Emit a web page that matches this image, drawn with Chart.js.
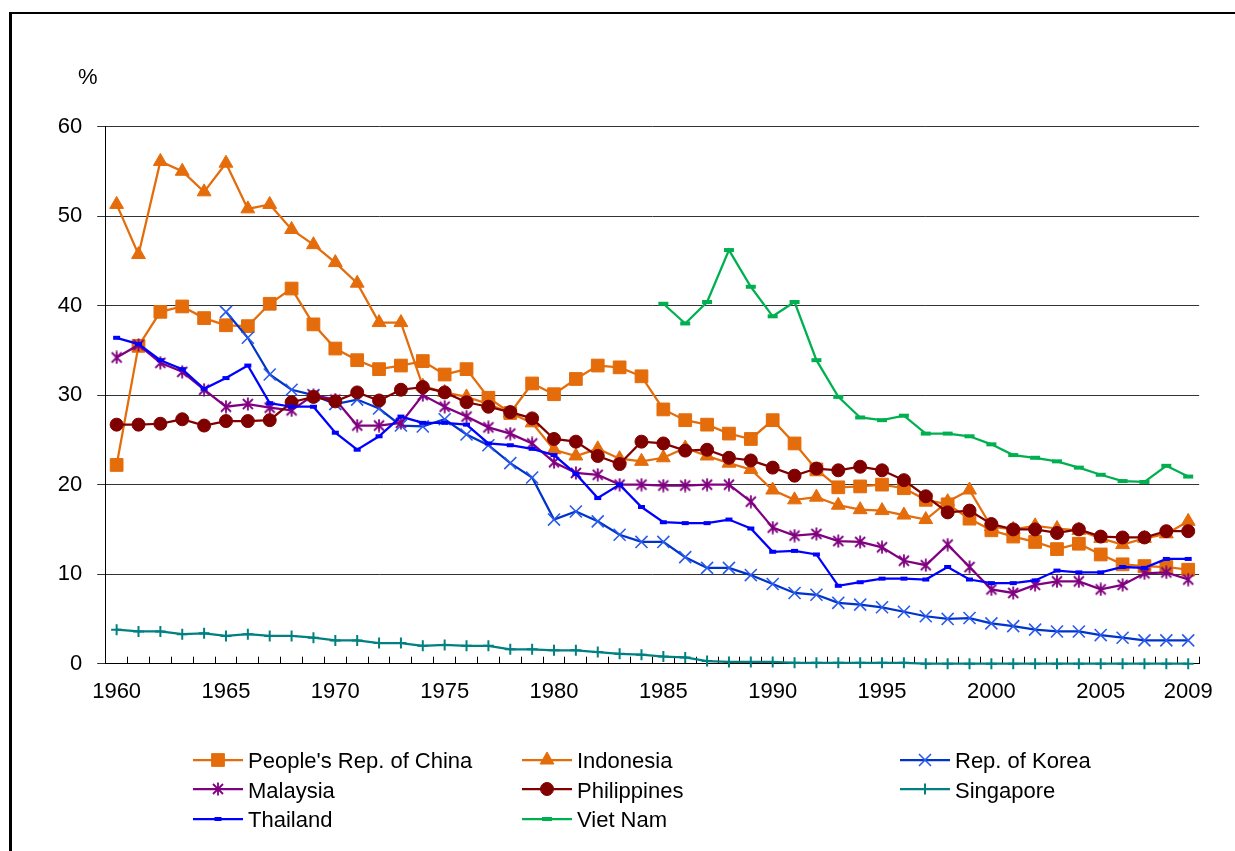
<!DOCTYPE html>
<html>
<head>
<meta charset="utf-8">
<title>Share of agriculture</title>
<script src="https://cdn.jsdelivr.net/npm/chart.js@4.4.1/dist/chart.umd.min.js"></script>
<style>
  html, body { margin: 0; padding: 0; background: #fff; overflow: hidden; }
  body { width: 1235px; height: 851px; position: relative; font-family: "Liberation Sans", Arial, sans-serif; color: #000; }
  #frame { position: absolute; left: 9px; top: 12px; width: 1400px; height: 1000px; border-left: 3px solid #000; border-top: 2px solid #000; }
  #wrap { position: absolute; left: 0; top: 0; width: 1235px; height: 851px; }
  #unit { position: absolute; left: 78px; top: 66px; font-size: 22px; line-height: 22px; }
  .lg-key { position: absolute; }
  .lg-text { position: absolute; font-size: 22px; line-height: 22px; white-space: nowrap; }
</style>
</head>
<body>
<div id="frame"></div>
<div id="wrap"><canvas id="chart" width="1235" height="851"></canvas></div>
<div id="unit">%</div>
<div id="legend"></div>
<script>
const years = [1960, 1961, 1962, 1963, 1964, 1965, 1966, 1967, 1968, 1969,
  1970, 1971, 1972, 1973, 1974, 1975, 1976, 1977, 1978, 1979,
  1980, 1981, 1982, 1983, 1984, 1985, 1986, 1987, 1988, 1989,
  1990, 1991, 1992, 1993, 1994, 1995, 1996, 1997, 1998, 1999,
  2000, 2001, 2002, 2003, 2004, 2005, 2006, 2007, 2008, 2009]

// years that get a label under the axis
const labelYears = [1960, 1965, 1970, 1975, 1980, 1985, 1990, 1995, 2000, 2005, 2009]

const seriesNames = ["People's Rep. of China", 'Indonesia', 'Rep. of Korea', 'Malaysia',
  'Philippines', 'Singapore', 'Thailand', 'Viet Nam']

const china = [22.2, 35.5, 39.3, 39.9, 38.6, 37.8, 37.7, 40.2, 41.9, 37.9,
  35.2, 33.9, 32.9, 33.3, 33.8, 32.3, 32.9, 29.7, 28.0, 31.3,
  30.1, 31.8, 33.3, 33.1, 32.1, 28.4, 27.2, 26.7, 25.7, 25.1,
  27.2, 24.6, 21.7, 19.7, 19.8, 20.0, 19.6, 18.3, 17.8, 16.2,
  14.9, 14.2, 13.6, 12.8, 13.4, 12.2, 11.1, 10.9, 10.8, 10.5]

const indonesia = [51.3, 45.7, 56.1, 55.0, 52.7, 55.9, 50.8, 51.3, 48.5, 46.8,
  44.8, 42.5, 38.1, 38.1, 31.0, 30.3, 29.8, 29.0, 28.0, 26.9,
  23.9, 23.2, 24.0, 22.9, 22.6, 23.0, 24.1, 23.2, 22.4, 21.7,
  19.4, 18.3, 18.6, 17.7, 17.2, 17.1, 16.6, 16.1, 18.1, 19.4,
  15.3, 15.0, 15.4, 15.1, 14.9, 14.0, 13.3, 14.0, 14.5, 15.9]

const korea = [null, null, null, null, null, 39.3, 36.4, 32.3, 30.6, 30.0,
  29.0, 29.5, 28.5, 26.6, 26.5, 27.3, 25.6, 24.4, 22.4, 20.8,
  16.1, 17.0, 15.9, 14.4, 13.6, 13.6, 11.9, 10.7, 10.7, 9.9,
  8.9, 7.9, 7.7, 6.8, 6.6, 6.3, 5.8, 5.3, 5.0, 5.1,
  4.5, 4.2, 3.8, 3.6, 3.6, 3.2, 2.9, 2.6, 2.6, 2.6]

const malaysia = [34.2, 35.6, 33.6, 32.6, 30.6, 28.7, 29.0, 28.6, 28.3, 30.0,
  29.5, 26.6, 26.6, 26.9, 30.0, 28.7, 27.6, 26.4, 25.7, 24.6,
  22.5, 21.3, 21.1, 20.0, 20.0, 19.9, 19.9, 20.0, 20.0, 18.1,
  15.2, 14.3, 14.5, 13.7, 13.6, 13.0, 11.5, 11.0, 13.3, 10.8,
  8.3, 7.9, 8.8, 9.2, 9.2, 8.3, 8.8, 10.1, 10.2, 9.4]

const philippines = [26.7, 26.7, 26.8, 27.3, 26.6, 27.1, 27.1, 27.2, 29.2, 29.8,
  29.3, 30.3, 29.4, 30.6, 30.9, 30.3, 29.2, 28.7, 28.1, 27.4,
  25.1, 24.8, 23.2, 22.3, 24.8, 24.6, 23.8, 23.9, 23.0, 22.7,
  21.9, 21.0, 21.8, 21.6, 22.0, 21.6, 20.5, 18.7, 16.9, 17.1,
  15.6, 15.0, 15.0, 14.6, 15.0, 14.2, 14.1, 14.1, 14.8, 14.8]

const singapore = [3.8, 3.6, 3.6, 3.3, 3.4, 3.1, 3.3, 3.1, 3.1, 2.9,
  2.6, 2.6, 2.3, 2.3, 2.0, 2.1, 2.0, 2.0, 1.6, 1.6,
  1.5, 1.5, 1.3, 1.1, 1.0, 0.8, 0.7, 0.3, 0.2, 0.2,
  0.2, 0.1, 0.1, 0.1, 0.1, 0.1, 0.1, 0.0, 0.0, 0.0,
  0.0, 0.0, 0.0, 0.0, 0.0, 0.0, 0.0, 0.0, 0.0, 0.0]

const thailand = [36.4, 35.7, 33.9, 32.9, 30.7, 31.9, 33.3, 29.1, 28.7, 28.7,
  25.8, 23.9, 25.4, 27.6, 26.9, 26.9, 26.7, 24.6, 24.4, 24.0,
  23.3, 21.2, 18.5, 20.0, 17.5, 15.8, 15.7, 15.7, 16.1, 15.1,
  12.5, 12.6, 12.2, 8.7, 9.1, 9.5, 9.5, 9.4, 10.8, 9.4,
  9.0, 9.0, 9.3, 10.4, 10.2, 10.2, 10.8, 10.7, 11.7, 11.7]

const vietnam = [null, null, null, null, null, null, null, null, null, null,
  null, null, null, null, null, null, null, null, null, null,
  null, null, null, null, null, 40.2, 38.0, 40.4, 46.2, 42.1,
  38.8, 40.4, 33.9, 29.8, 27.5, 27.2, 27.7, 25.7, 25.7, 25.4,
  24.5, 23.3, 23.0, 22.6, 21.9, 21.1, 20.4, 20.3, 22.1, 20.9]

const seriesValues = [china, indonesia, korea, malaysia, philippines, singapore, thailand, vietnam]

// Excel-like asterisk marker: an X with a vertical bar through it
function asteriskMarker(color) {
  const c = document.createElement('canvas')
  c.width = 14
  c.height = 14
  const g = c.getContext('2d')
  g.strokeStyle = color
  g.lineWidth = 1.8
  g.beginPath()
  g.moveTo(2, 2); g.lineTo(12, 12)
  g.moveTo(12, 2); g.lineTo(2, 12)
  g.moveTo(7, 0.5); g.lineTo(7, 13.5)
  g.stroke()
  return c
}

const looks = [
  { line: '#E46C0A', mark: '#E46C0A', style: 'rect', r: 9, bw: 1 },
  { line: '#E46C0A', mark: '#E46C0A', style: 'triangle', r: 8, bw: 1 },
  { line: '#0033CC', mark: '#2A5BEA', style: 'crossRot', r: 8.5, bw: 1.6 },
  { line: '#800080', mark: '#800080', style: asteriskMarker('#800080'), r: 7, bw: 0 },
  { line: '#800000', mark: '#800000', style: 'circle', r: 6.5, bw: 1 },
  { line: '#008080', mark: '#008080', style: 'cross', r: 5.5, bw: 2 },
  { line: '#0000FF', mark: '#0000FF', style: 'line', r: 3.5, bw: 4 },
  { line: '#00B050', mark: '#00B050', style: 'line', r: 5, bw: 4 }
]

const datasets = seriesValues.map((vals, i) => ({
  label: seriesNames[i],
  data: vals,
  borderColor: looks[i].line,
  backgroundColor: looks[i].mark,
  borderWidth: 2.25,
  pointStyle: looks[i].style,
  pointRadius: looks[i].r,
  pointBorderWidth: looks[i].bw,
  pointBorderColor: looks[i].mark,
  pointBackgroundColor: looks[i].mark,
  tension: 0,
  clip: false,
  order: seriesValues.length - i
}))

new Chart(document.getElementById('chart'), {
  type: 'line',
  data: { labels: years, datasets: datasets },
  options: {
    responsive: false,
    animation: false,
    devicePixelRatio: 1,
    events: [],
    layout: { padding: { left: 0, top: 126.5, right: 33.3, bottom: 0 } },
    plugins: { legend: { display: false }, tooltip: { enabled: false } },
    scales: {
      x: {
        offset: true,
        grid: { drawOnChartArea: false, drawTicks: true, tickLength: -7, offset: true, color: '#000', lineWidth: 1 },
        border: { display: true, color: '#000', width: 1 },
        ticks: {
          autoSkip: false,
          maxRotation: 0,
          padding: 22,
          color: '#000',
          font: { family: '"Liberation Sans", Arial, sans-serif', size: 22 },
          callback: (v, i) => labelYears.includes(years[i]) ? String(years[i]) : ''
        },
        afterFit: s => { s.height = 851 - 663.7 }
      },
      y: {
        min: 0,
        max: 60,
        grid: { color: '#333', lineWidth: 1, drawTicks: true, tickLength: 8.5 },
        border: { display: true, color: '#000', width: 1 },
        ticks: {
          stepSize: 10,
          padding: 15,
          color: '#000',
          font: { family: '"Liberation Sans", Arial, sans-serif', size: 22 }
        },
        afterFit: s => { s.width = 105.7 }
      }
    }
  }
})

// legend built in HTML, three columns
const legCols = [193, 522, 900]
const legRows = [759.5, 789, 818.5]
const legendBox = document.getElementById('legend')
seriesNames.forEach((name, i) => {
  const col = legCols[i % 3]
  const row = legRows[Math.floor(i / 3)]
  const key = document.createElement('canvas')
  key.width = 52
  key.height = 22
  key.className = 'lg-key'
  key.style.left = col + 'px'
  key.style.top = (row - 11) + 'px'
  const g = key.getContext('2d')
  g.strokeStyle = looks[i].line
  g.lineWidth = 2.25
  g.beginPath(); g.moveTo(0, 11); g.lineTo(50, 11); g.stroke()
  g.strokeStyle = looks[i].mark
  g.fillStyle = looks[i].mark
  g.lineWidth = looks[i].bw
  Chart.helpers.drawPoint(g, { pointStyle: looks[i].style, radius: looks[i].r, borderWidth: looks[i].bw, rotation: 0 }, 25, 11)
  legendBox.appendChild(key)

  const t = document.createElement('div')
  t.className = 'lg-text'
  t.textContent = name
  t.style.left = (col + 55) + 'px'
  t.style.top = (row - 9.5) + 'px'
  legendBox.appendChild(t)
})
</script>
</body>
</html>
